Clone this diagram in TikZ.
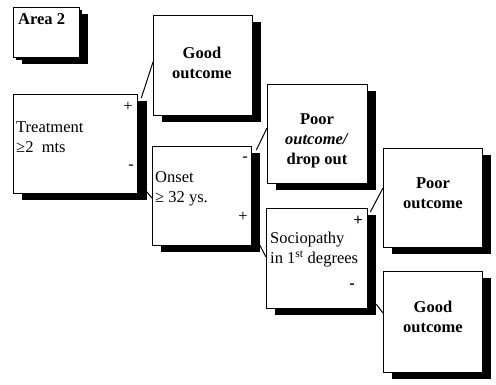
\documentclass[tikz,border=0pt]{standalone}
\usepackage{fontspec}
\setmainfont{Liberation Serif}
\usetikzlibrary{shadows,calc}
\tikzstyle{card}=[draw, line width=1.3pt, fill=white, anchor=north west, inner sep=0pt, minimum width=99pt, minimum height=99pt, drop shadow={shadow xshift=8pt, shadow yshift=-6pt, fill=black, opacity=1}]
\tikzstyle{lbl}=[align=left, anchor=west, inner sep=0pt, font=\fontsize{16.5}{20}\selectfont]
\tikzstyle{res}=[align=center, inner sep=0pt, font=\fontsize{16.5}{20}\selectfont\bfseries]
\tikzstyle{sgn}=[inner sep=0pt, font=\fontsize{16.5}{20}\selectfont]
\tikzstyle{link}=[line width=1pt]

\begin{document}
\begin{tikzpicture}[x=1pt, y=-1pt]
	\useasboundingbox[fill=white] (0,0) rectangle (496,384);
%
	\node[card, minimum width=66pt, minimum height=50pt, drop shadow={shadow xshift=2pt, shadow yshift=-2pt, fill=black, opacity=1}] (area) at (13,7) {};
	\node[card, minimum height=100pt] (good1) at (153,15) {};
	\node[card, minimum width=124pt, drop shadow={shadow xshift=9pt, shadow yshift=-6pt, fill=black, opacity=1}] (treat) at (13,94) {};
	\node[card] (onset) at (152,146) {};
	\node[card, minimum width=100pt] (poor1) at (267,84) {};
	\node[card, minimum width=101pt, minimum height=100pt] (socio) at (266,208) {};
	\node[card] (poor2) at (383,148) {};
	\node[card, minimum height=101pt] (good2) at (383,271) {};
%
	\node[lbl, anchor=north west, font=\fontsize{16.5}{20}\selectfont\bfseries] (areatxt) at (18,13) {Area 2};
	\node[lbl] (treattxt) at (16,137) {Treatment\\≥2\ \ mts};
	\node[lbl] (onsettxt) at (155,189) {Onset\\≥ 32 ys.};
	\node[lbl] (sociotxt) at (270,250) {Sociopathy\\in 1\textsuperscript{st} degrees};
	\node[res] (good1txt) at (202,63) {Good\\outcome};
	\node[res] (poor1txt) at (317,141) {Poor\\\textit{outcome/}\\drop out};
	\node[res] (poor2txt) at (433,193) {Poor\\outcome};
	\node[res] (good2txt) at (433,317) {Good\\outcome};
%
	\node[sgn] (tplus) at (128,107) {+};
	\node[sgn] (tminus) at (131,167) {-};
	\node[sgn] (ominus) at (245,159) {-};
	\node[sgn] (oplus) at (243,217) {+};
	\node[sgn, font=\fontsize{16.5}{20}\selectfont\bfseries] (splus) at (358,221) {+};
	\node[sgn, font=\fontsize{16.5}{20}\selectfont\bfseries] (sminus) at (352,286) {-};
%
	\draw[link] ($(treat.north east)+(3,4)$) -- ($(good1.north west)+(0,47)$);
	\draw[link] ($(treat.south east)+(8,-3)$) -- ($(onset.north west)+(0,52)$);
	\draw[link] ($(onset.north east)+(4,4)$) -- ($(poor1.north west)+(0,44)$);
	\draw[link] ($(onset.south east)+(7,-2)$) -- ($(socio.north west)+(0,49)$);
	\draw[link] ($(socio.north east)+(2,4)$) -- ($(poor2.north west)+(0,40)$);
	\draw[link] ($(socio.south east)+(8,-5)$) -- ($(good2.north west)+(0,42)$);
\end{tikzpicture}
\end{document}
